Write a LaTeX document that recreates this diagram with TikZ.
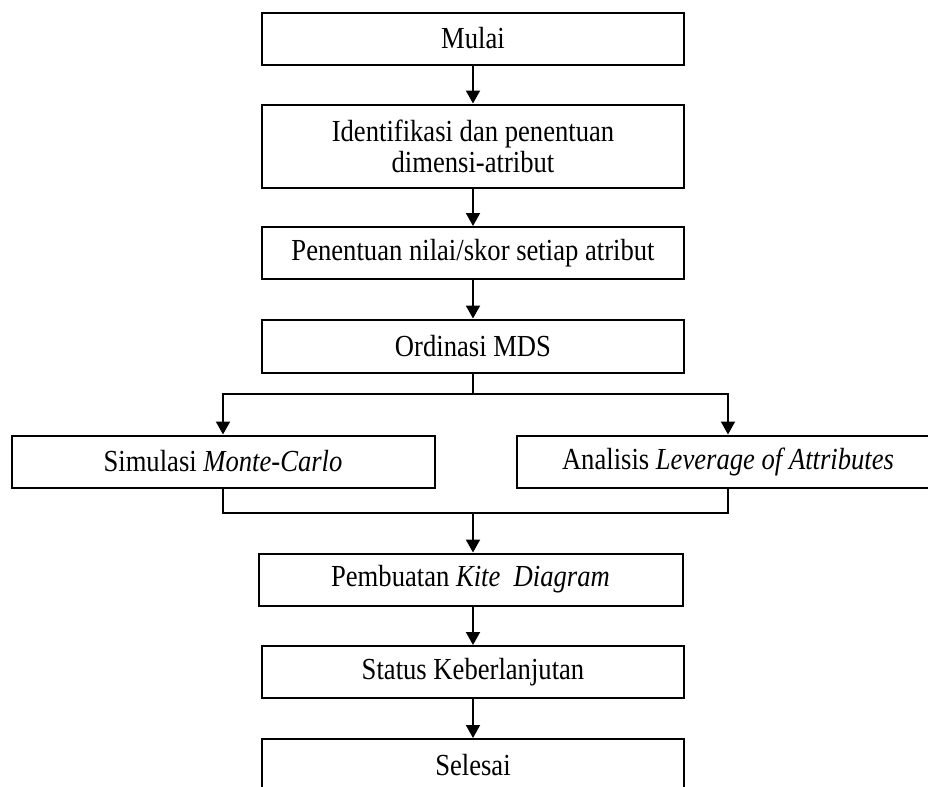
\documentclass[tikz,border=0pt]{standalone}
\usepackage{fontspec}
\setmainfont{Liberation Serif}[FakeStretch=0.87]
\usetikzlibrary{arrows.meta}

\begin{document}
        \begin{tikzpicture}[x=0.5pt, y=-0.5pt, line width=1pt, >={Triangle[length=6.5pt,width=7pt]},
            box/.style={draw, rectangle, minimum height=26pt, inner sep=0pt, align=center,
                        font=\fontsize{15.3}{15.5}\selectfont}]
            \useasboundingbox (0,0) rectangle (928,787);
            \clip (0,0) rectangle (928,787);
            \node [box, minimum width=211pt] (mulai) at (473,38.5) {Mulai};
            \node [box, minimum width=211pt, minimum height=41.5pt] (ident) at (473,146) {Identifikasi dan penentuan\\dimensi-atribut};
            \node [box, minimum width=211pt] (skor) at (473,253) {Penentuan nilai/skor setiap atribut};
            \node [box, minimum width=211pt, minimum height=26.5pt] (mds) at (473,346) {Ordinasi MDS};
            \node [box, minimum width=211.5pt] (monte) at (223,461.5) {Simulasi \textit{Monte-Carlo}};
            \node [box, minimum width=211pt] (leverage) at (728,461.5) {Analisis \textit{Leverage of Attributes}};
            \node [box, minimum width=212pt] (kite) at (470.5,579.5) {Pembuatan \textit{Kite\ \ Diagram}};
            \node [box, minimum width=211pt] (status) at (473,672) {Status Keberlanjutan};
            \node [box, minimum width=211pt] (selesai) at (473,765) {Selesai};
            \coordinate (split) at (473,394);
            \coordinate (join) at (473,513);
            \draw [->] (mulai)-- (ident);
            \draw [->] (ident)-- (skor);
            \draw [->] (skor)-- (mds);
            \draw (mds)-- (split);
            \draw [->] (split)-| (monte);
            \draw [->] (split)-| (leverage);
            \draw (monte)|- (join);
            \draw (leverage)|- (join);
            \draw [->] (join)-- (join |- kite.north);
            \draw [->] (kite.south -| status)-- (status);
            \draw [->] (status)-- (selesai);
        \end{tikzpicture}
\end{document}
